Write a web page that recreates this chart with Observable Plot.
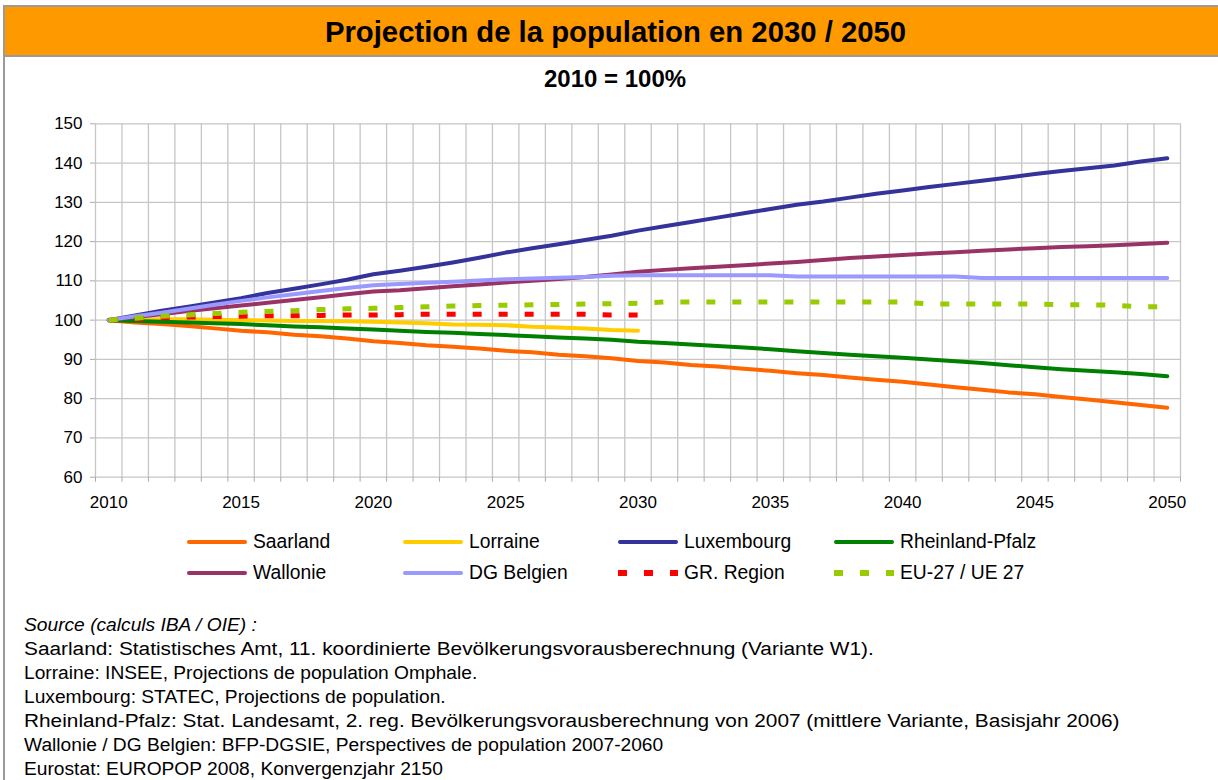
<!DOCTYPE html>
<html><head><meta charset="utf-8">
<script src="https://cdn.jsdelivr.net/npm/d3@7"></script>
<script src="https://cdn.jsdelivr.net/npm/@observablehq/plot@0.6"></script>
<style>
body{margin:0;background:#fff;font-family:"Liberation Sans",Arial,sans-serif;color:#000;}
#page{position:relative;width:1218px;height:780px;overflow:hidden;background:#fff;}
#frame{position:absolute;left:3px;top:5px;width:1400px;height:900px;border-left:2px solid #9a9a9a;border-top:2px solid #9a9a9a;}
#bar{position:absolute;left:5px;top:7px;width:1300px;height:48px;background:#FF9900;border-bottom:2px solid #9a9a9a;}
#title{position:absolute;left:0;top:7px;width:1231px;height:48px;line-height:50px;text-align:center;font-weight:bold;font-size:29.3px;}
#subtitle{position:absolute;left:0;top:64px;width:1230px;line-height:30px;text-align:center;font-weight:bold;font-size:24px;}
#chart{position:absolute;left:0;top:110px;}
.leg{position:absolute;height:20px;display:flex;align-items:center;font-size:19.3px;white-space:nowrap;}
.leg svg{margin-right:6px;}
#source{position:absolute;left:24px;top:613px;font-size:19.2px;line-height:24px;white-space:nowrap;}
#source .it{font-style:italic;}
#source .wide{transform:scaleX(1.085);transform-origin:0 50%;}
</style>
</head><body>
<div id="page">
  <div id="frame"></div>
  <div id="bar"></div>
  <div id="title">Projection de la population en 2030 / 2050</div>
  <div id="subtitle">2010 = 100%</div>
  <div id="chart"></div>
  <div id="legend"></div>
  <div id="source"></div>
</div>
<script>
// ---- data ----
const years = [2010,2011,2012,2013,2014,2015,2016,2017,2018,2019,2020,2021,2022,2023,2024,2025,2026,2027,2028,2029,2030,
  2031,2032,2033,2034,2035,2036,2037,2038,2039,2040,2041,2042,2043,2044,2045,2046,2047,2048,2049,2050];
const xTickLabels = [2010,2015,2020,2025,2030,2035,2040,2045,2050];
const yTickLabels = [60,70,80,90,100,110,120,130,140,150];

const saarland = [100,99.4,99.0,98.5,97.9,97.3,96.9,96.3,95.9,95.3,94.6,94.2,93.6,93.2,92.8,92.2,91.8,91.2,90.8,90.3,89.6,
  89.2,88.6,88.2,87.6,87.1,86.5,86.0,85.4,84.8,84.3,83.6,82.9,82.3,81.6,81.1,80.4,79.8,79.1,78.4,77.7];
const lorraine = [100,100.1,100.2,100.2,100.1,100.0,99.9,99.8,99.8,99.7,99.6,99.4,99.2,98.9,98.8,98.7,98.3,98.1,97.9,97.5,97.3];
const luxembourg = [100,101.2,102.4,103.4,104.5,105.6,106.9,108.0,109.1,110.3,111.7,112.6,113.6,114.7,115.9,117.2,118.3,119.3,120.4,121.5,122.8,
  123.9,125.0,126.1,127.2,128.3,129.4,130.2,131.2,132.2,133.0,133.9,134.7,135.5,136.3,137.2,138.0,138.7,139.4,140.4,141.2];
const rheinlandPfalz = [100,99.8,99.6,99.4,99.2,99.0,98.7,98.4,98.2,97.9,97.6,97.3,97.0,96.8,96.5,96.2,95.9,95.6,95.3,95.0,94.5,
  94.2,93.8,93.4,93.0,92.6,92.1,91.6,91.2,90.8,90.4,90.0,89.5,89.1,88.5,88.0,87.5,87.1,86.7,86.3,85.7];
const wallonie = [100,100.8,101.5,102.3,103.0,103.7,104.4,105.1,105.8,106.6,107.3,107.6,108.1,108.6,109.1,109.6,110.0,110.5,111.0,111.6,112.3,
  112.8,113.2,113.6,114.0,114.4,114.8,115.3,115.8,116.2,116.6,117.0,117.3,117.7,118.0,118.3,118.6,118.8,119.1,119.4,119.7];
const dgBelgien = [100,101.0,101.9,102.9,103.9,104.9,105.8,106.6,107.4,108.2,108.9,109.2,109.5,109.8,110.1,110.4,110.6,110.8,111.0,111.3,111.4,
  111.4,111.4,111.4,111.4,111.4,111.1,111.1,111.1,111.1,111.1,111.1,111.1,110.7,110.7,110.7,110.7,110.7,110.7,110.7,110.7];
const grRegion = [100,100.3,100.6,100.8,100.9,101.0,101.1,101.1,101.2,101.3,101.3,101.4,101.5,101.5,101.5,101.5,101.5,101.5,101.5,101.3,101.3];
const eu27 = [100,100.5,101.0,101.3,101.7,102.0,102.2,102.4,102.7,102.9,103.0,103.2,103.4,103.6,103.7,103.8,103.9,104.0,104.1,104.2,104.3,
  104.6,104.6,104.6,104.6,104.6,104.6,104.6,104.6,104.6,104.6,104.1,104.1,104.1,104.1,104.1,103.9,103.9,103.8,103.4,103.4];

const seriesNames = ["Saarland","Lorraine","Luxembourg","Rheinland-Pfalz","Wallonie","DG Belgien","GR. Region","EU-27 / UE 27"];
const seriesValues = [saarland,lorraine,luxembourg,rheinlandPfalz,wallonie,dgBelgien,grRegion,eu27];
const seriesColors = ["#FF6600","#FFCC00","#333399","#008000","#993366","#9999FF","#FF0000","#99CC00"];
const seriesDashed = [false,false,false,false,false,false,true,true];

const sourceLines = [
  "Source (calculs IBA / OIE) :",
  "Saarland: Statistisches Amt, 11. koordinierte Bevölkerungsvorausberechnung (Variante W1).",
  "Lorraine: INSEE, Projections de population Omphale.",
  "Luxembourg: STATEC, Projections de population.",
  "Rheinland-Pfalz: Stat. Landesamt, 2. reg. Bevölkerungsvorausberechnung von 2007 (mittlere Variante, Basisjahr 2006)",
  "Wallonie / DG Belgien: BFP-DGSIE, Perspectives de population 2007-2060",
  "Eurostat: EUROPOP 2008, Konvergenzjahr 2150"
];
const sourceClasses = ["it", "wide", "", "", "wide", "", ""];

// ---- chart ----
const bounds = [...years.map(y => y - 0.5), years[years.length - 1] + 0.5];
const grid = "#c6c6c6";

const lineMarks = seriesValues.map((vals, i) => {
  const rows = vals.map((v, j) => ({year: years[j], value: v}));
  return Plot.line(rows, {
    x: "year", y: "value",
    stroke: seriesColors[i],
    strokeWidth: seriesDashed[i] ? 5 : 4,
    strokeDasharray: seriesDashed[i] ? "9,17" : null,
    strokeLinecap: seriesDashed[i] ? "butt" : "round",
    strokeLinejoin: "round"
  });
});

const chart = Plot.plot({
  width: 1218,
  height: 420,
  marginLeft: 95,
  marginRight: 38,
  marginTop: 13.3,
  marginBottom: 53.3,
  style: {fontFamily: "'Liberation Sans', Arial, sans-serif", fontSize: "17px", background: "transparent", color: "#000"},
  x: {domain: [bounds[0], bounds[bounds.length - 1]], axis: null, label: null},
  y: {domain: [60, 150], axis: null, label: null},
  marks: [
    Plot.ruleX(bounds, {stroke: grid, strokeWidth: 1.3}),
    Plot.ruleY(yTickLabels, {stroke: grid, strokeWidth: 1.3}),
    Plot.axisX({ticks: bounds, tickSize: 5, tickFormat: () => "", stroke: "#aaa", label: null}),
    Plot.axisX({ticks: xTickLabels, tickSize: 0, tickPadding: 19, tickFormat: d => String(d), fill: "#000", fontSize: 17, label: null}),
    Plot.axisY({ticks: yTickLabels, tickSize: 5, tickPadding: 8, stroke: "#aaa", fill: "#000", fontSize: 17, label: null}),
    ...lineMarks
  ]
});
document.getElementById("chart").appendChild(chart);

// ---- legend ----
const legCols = [187, 403, 618, 834];
const legRows = [532, 563];
const legend = document.getElementById("legend");
seriesNames.forEach((name, i) => {
  const div = document.createElement("div");
  div.className = "leg";
  div.style.left = legCols[i % 4] + "px";
  div.style.top = legRows[Math.floor(i / 4)] + "px";
  const dash = seriesDashed[i] ? `stroke-dasharray="9,17" stroke-width="6"` : `stroke-width="4" stroke-linecap="round"`;
  const x1 = seriesDashed[i] ? 0 : 2, x2 = seriesDashed[i] ? 61 : 58;
  div.innerHTML = `<svg width="60" height="10"><line x1="${x1}" x2="${x2}" y1="5" y2="5" stroke="${seriesColors[i]}" ${dash}/></svg><span>${name}</span>`;
  legend.appendChild(div);
});

// ---- source ----
const src = document.getElementById("source");
sourceLines.forEach((t, i) => {
  const d = document.createElement("div");
  if (sourceClasses[i]) d.className = sourceClasses[i];
  d.textContent = t;
  src.appendChild(d);
});
</script>
</body></html>
